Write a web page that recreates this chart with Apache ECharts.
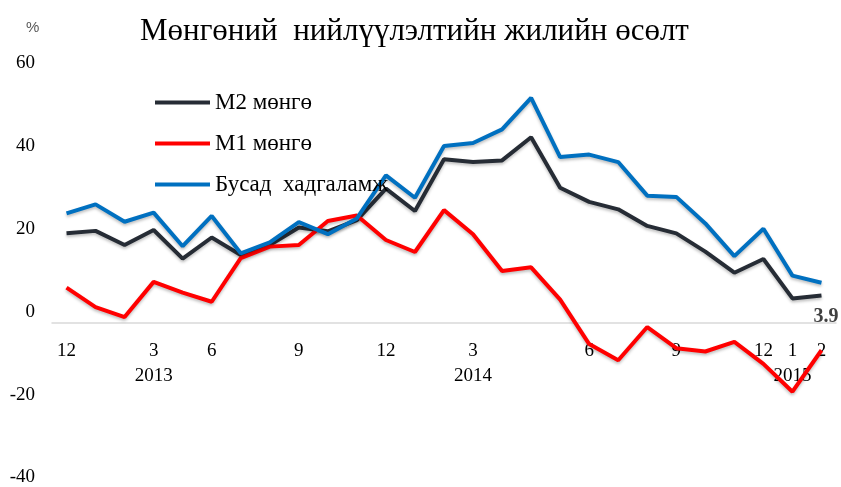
<!DOCTYPE html>
<html>
<head>
<meta charset="utf-8">
<script src="https://cdn.jsdelivr.net/npm/echarts@6/dist/echarts.min.js"></script>
<style>
  html, body { margin: 0; padding: 0; background: #fff; }
  #chart { width: 841px; height: 487px; }
</style>
</head>
<body>
<div id="chart"></div>
<script>
// months Dec 2012 .. Feb 2015
var categories = ['2012-12', '2013-01', '2013-02', '2013-03', '2013-04', '2013-05', '2013-06',
  '2013-07', '2013-08', '2013-09', '2013-10', '2013-11', '2013-12', '2014-01', '2014-02',
  '2014-03', '2014-04', '2014-05', '2014-06', '2014-07', '2014-08', '2014-09', '2014-10',
  '2014-11', '2014-12', '2015-01', '2015-02'];

// labels shown under the axis
var tickLabels = ['12', '', '', '3', '', '6', '', '', '9', '', '', '12', '', '', '3', '', '', '',
  '6', '', '', '9', '', '', '12', '1', '2'];
var yearLabels = ['', '', '', '2013', '', '', '', '', '', '', '', '', '', '', '2014', '', '', '',
  '', '', '', '', '', '', '', '2015', ''];

// yoy growth, %
var m2 = [18.9, 19.5, 16.1, 19.7, 12.8, 17.9, 13.7, 16.1, 20.3, 19.4, 22.1, 29.7, 24.3, 36.8,
  36.1, 36.5, 42.1, 29.9, 26.5, 24.7, 20.7, 18.9, 14.5, 9.4, 12.7, 3.2, 3.9];
var m1 = [5.8, 1.1, -1.3, 7.2, 4.6, 2.4, 12.9, 15.7, 16.1, 21.9, 23.2, 17.3, 14.4, 24.5, 18.7,
  9.8, 10.7, 2.9, -7.8, -11.7, -3.7, -8.8, -9.6, -7.3, -12.6, -19.3, -9.3];
var deposits = [23.7, 25.9, 21.7, 23.9, 15.8, 23.1, 14.1, 16.7, 21.6, 18.7, 22.5, 32.9, 27.5,
  40.0, 40.7, 44.0, 51.6, 37.3, 37.9, 36.1, 28.0, 27.7, 21.3, 13.4, 20.0, 8.7, 7.0];

var serif = "'Liberation Serif', 'Times New Roman', serif";
var shadow = { shadowColor: 'rgba(0,0,0,0.25)', shadowBlur: 3, shadowOffsetY: 2 };

function lineSeries(name, data, color) {
  return {
    name: name,
    type: 'line',
    data: data,
    symbol: 'none',
    lineStyle: Object.assign({ color: color, width: 4 }, shadow),
    itemStyle: { color: color }
  };
}

var m2Series = lineSeries('M2 мөнгө', m2, '#262c35');
// value of the last point, under the line end
m2Series.endLabel = {
  show: true,
  distance: 0,
  offset: [-8, 21],
  formatter: function (p) { return p.value; },
  fontFamily: serif, fontSize: 20, fontWeight: 'bold', color: '#404040'
};

var option = {
  animation: false,
  title: {
    text: 'Мөнгөний  нийлүүлэлтийн жилийн өсөлт',
    left: 135, top: 11,
    textStyle: { fontFamily: serif, fontSize: 31, fontWeight: 'normal', color: '#000' }
  },
  graphic: [{
    type: 'text', left: 26, top: 20,
    style: { text: '%', fontFamily: "'Liberation Sans', Arial, sans-serif", fontSize: 15, fill: '#595959' }
  }],
  legend: {
    orient: 'vertical',
    left: 150, top: 86,
    icon: 'rect',
    itemWidth: 55, itemHeight: 4, itemGap: 18,
    textStyle: { fontFamily: serif, fontSize: 23, color: '#000' },
    data: ['M2 мөнгө', 'M1 мөнгө', 'Бусад  хадгаламж']
  },
  grid: { left: 52, right: 5, top: 63, bottom: 7, containLabel: false },
  xAxis: {
    type: 'category',
    data: categories,
    boundaryGap: true,
    offset: -155,
    axisLine: { onZero: false, lineStyle: { color: '#d9d9d9', width: 1.5 } },
    axisTick: { show: false },
    axisLabel: {
      interval: 0, margin: 16, lineHeight: 25,
      fontFamily: serif, fontSize: 19, color: '#000',
      formatter: function (v, i) {
        var s = tickLabels[i];
        if (yearLabels[i]) s += '\n' + yearLabels[i];
        return s;
      }
    }
  },
  yAxis: {
    type: 'value',
    min: -40, max: 60, interval: 20,
    axisLine: { show: false },
    axisTick: { show: false },
    splitLine: { show: false },
    axisLabel: { margin: 17, fontFamily: serif, fontSize: 19, color: '#000' }
  },
  series: [
    m2Series,
    lineSeries('M1 мөнгө', m1, '#ff0000'),
    lineSeries('Бусад  хадгаламж', deposits, '#0070c0')
  ]
};

var chart = echarts.init(document.getElementById('chart'));
chart.setOption(option);
</script>
</body>
</html>
